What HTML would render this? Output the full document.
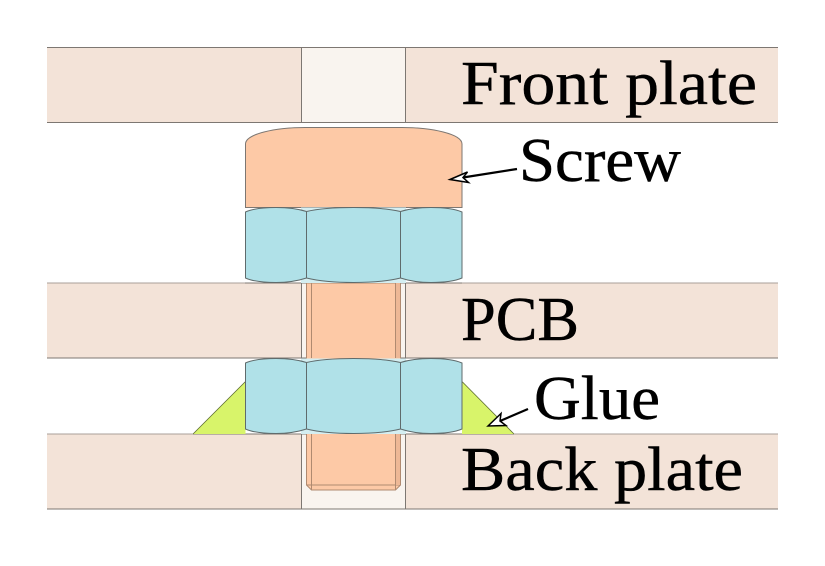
<!DOCTYPE html>
<html><head><meta charset="utf-8"><style>
html,body{margin:0;padding:0;background:#fff}
svg{display:block}
text{font-family:"Liberation Serif",serif;font-size:62px;fill:#000;stroke:#000;stroke-width:.45px}
</style></head><body>
<svg width="825" height="566" viewBox="0 0 825 566" xmlns="http://www.w3.org/2000/svg">
<defs>
<g id="nut" fill="#b0e1e8" stroke="#5f6b6c" stroke-width="1">
<path d="M301 207.5H406V283H301Z" fill="#d4eef1" stroke="none"/>
<path d="M245.5 212C252 209 264 207.5 276 207.5C288 207.5 298 208.8 306.5 211.5V278C298 280.8 288 282.5 276 282.5C264 282.5 252 281 245.5 278Z"/>
<path d="M306.5 211.5C318 208.8 335 207.5 353.5 207.5C372 207.5 389 208.8 400.5 211.5V278C389 280.8 372 282.5 353.5 282.5C335 282.5 318 280.8 306.5 278Z"/>
<path d="M400.5 211.5C409 208.8 419 207.5 431 207.5C443 207.5 455 209 462 212V278C455 281 443 282.5 431 282.5C419 282.5 409 280.8 400.5 278Z"/>
</g>
</defs>
<g fill="#f3e3d8">
<rect x="47" y="47.5" width="731" height="75"/>
<rect x="47" y="283" width="731" height="75"/>
<rect x="47" y="434" width="731" height="75"/>
</g>
<g fill="#f9f4ef">
<rect x="301.5" y="47.5" width="104" height="75"/>
<rect x="301.5" y="283" width="104" height="75"/>
<rect x="301.5" y="434" width="104" height="75"/>
</g>
<g stroke="#7d7772" stroke-width="1" fill="none">
<path d="M47 47.5H778M47 122.5H778M47 283H778M47 358H778M47 434H778M47 509H778"/>
<path d="M301.5 47.5V122.5M405.5 47.5V122.5M301.5 283V358M405.5 283V358M301.5 434V509M405.5 434V509"/>
</g>
<path d="M306.5 283V485L311.5 490H395.5L400.5 485V283Z" fill="#fdc9a6" stroke="#b08a70" stroke-width="1"/>
<path d="M311.5 283V358M395.5 283V358M311.5 434V490M395.5 434V490M306.5 485H400.5" stroke="#b08a70" stroke-width="1" fill="none"/>
<path d="M396 283H400V358H396ZM396 434H400V485H396Z" fill="#eeb896"/>
<path d="M193 434L245.5 381.5V434Z M462 381.5L514 434H462Z" fill="#d8f46a"/>
<path d="M193 434L245.5 381.5M462 381.5L514 434" stroke="#5c6b30" stroke-width=".8" fill="none"/>
<path d="M245.5 207.5V144C245.5 134 275 127.5 305 127.5H402C432 127.5 462 134 462 144V207.5Z" fill="#fdc9a6" stroke="#7d7772" stroke-width="1"/>
<use href="#nut"/>
<use href="#nut" y="151"/>
<path d="M47 283H245M462 283H778M47 434H193M514 434H778" stroke="#a89f99" stroke-width="1" fill="none"/>
<path d="M517 169L463 177.5" stroke="#000" stroke-width="2.2" fill="none"/>
<path d="M450 179.5L467.5 172L463 177.5L468.5 182.5Z" fill="#fff" stroke="#000" stroke-width="1.5"/>
<path d="M528 409L500 421" stroke="#000" stroke-width="2.2" fill="none"/>
<path d="M488 426L501 413.5L500 421L506 425.5Z" fill="#fff" stroke="#000" stroke-width="1.5"/>
<text x="461" y="104" textLength="296" lengthAdjust="spacingAndGlyphs">Front plate</text>
<text x="519" y="181" textLength="162" lengthAdjust="spacingAndGlyphs">Screw</text>
<text x="461" y="340" textLength="118" lengthAdjust="spacingAndGlyphs">PCB</text>
<text x="534" y="419" textLength="126" lengthAdjust="spacingAndGlyphs">Glue</text>
<text x="461" y="490" textLength="282" lengthAdjust="spacingAndGlyphs">Back plate</text>
</svg>
</body></html>
